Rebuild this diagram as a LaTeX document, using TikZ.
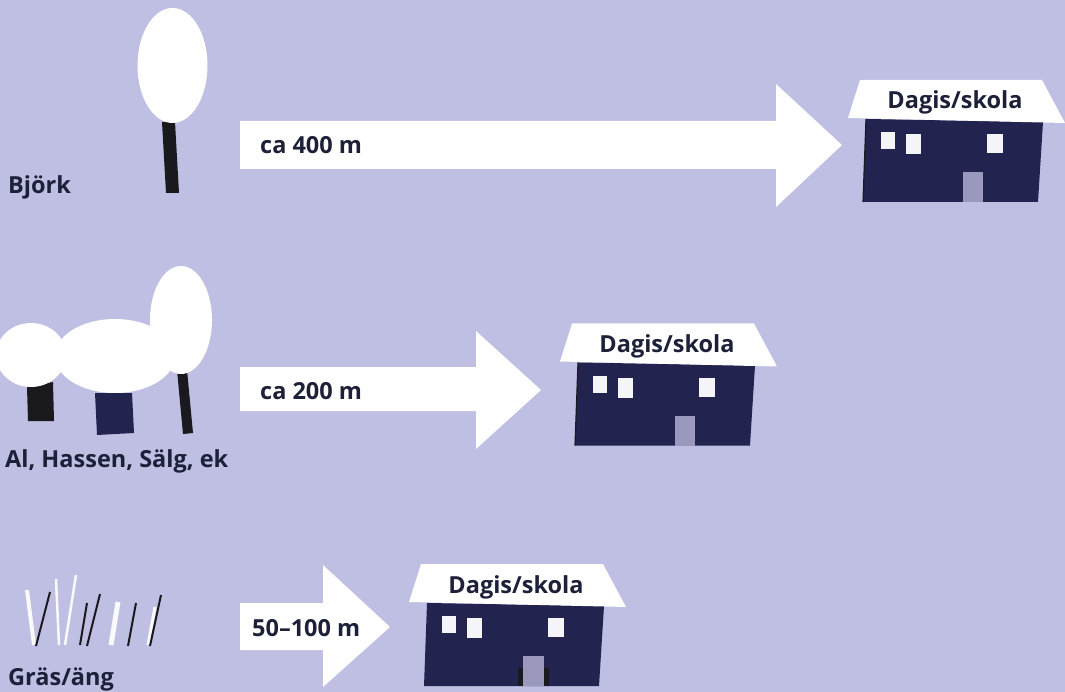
\documentclass[tikz,border=0pt]{standalone}
\usepackage{fontspec}
\setmainfont{Open Sans}
\definecolor{bakgrund}{HTML}{BFBEE3}
\definecolor{natt}{HTML}{22234F}
\definecolor{stam}{HTML}{1A1A1E}
\definecolor{port}{HTML}{9A98BC}
\definecolor{skrift}{HTML}{1C2038}
\definecolor{ruta}{HTML}{F4F4F9}
\tikzset{
    etikett/.style={anchor=base west, inner sep=0pt, text=skrift, font=\fontsize{23.5}{26}\selectfont\bfseries},
    skylt/.style={anchor=base, inner sep=0pt, text=skrift, font=\fontsize{23.5}{26}\selectfont\bfseries},
    krona/.style={fill=white},
    pil/.style={fill=white},
    ljusstra/.style={draw=white!92!bakgrund, line width=3pt},
    morkstra/.style={draw=stam, line width=2pt}
}
\begin{document}
\begin{tikzpicture}[x=1pt,y=-1pt]
    \fill[bakgrund] (0,0) rectangle (1065,692);
    \useasboundingbox (0,0) rectangle (1065,692);
    % rad 1
    \fill[stam] (162,122) -- (175,122) -- (179,193) -- (166,193) -- cycle;
    \fill[krona] (172.5,65.5) ellipse (35 and 57.5);
    \node[etikett] (bjork) at (8,194) {Björk};
    \fill[pil] (240,121) -- (776,121) -- (776,84) -- (842,145) -- (776,207) -- (776,169) -- (240,169) -- cycle;
    \node[etikett] (avstand1) at (260,154) {ca 400 m};
    \begin{scope}[shift={(0,0)}]
        \fill[natt] (866,119) -- (1043,122) -- (1038,202) -- (863,202) -- cycle;
        \draw[stam, line width=1.2pt] (866,119) -- (863,202);
        \fill[white] (860,80) -- (1042,80) -- (1065,123) -- (848,118) -- cycle;
        \fill[ruta] (881,132) rectangle (895,149);
        \fill[ruta] (906,134) rectangle (921,154);
        \fill[ruta] (987,134) rectangle (1003,153);
        \fill[port] (963,172) rectangle (983,202);
        \node[skylt] (skola1) at (955,109) {Dagis/skola};
    \end{scope}
    % rad 2
    \fill[stam] (27,387) -- (53,382) -- (54,421) -- (28,421) -- cycle;
    \fill[natt] (95,393) -- (132,393) -- (134,433) -- (97,435) -- cycle;
    \fill[stam] (177,370) -- (187,370) -- (193,433) -- (183,434) -- cycle;
    \fill[krona] (31,355) ellipse (35 and 32);
    \fill[krona] (115,356) ellipse (60 and 37);
    \fill[krona] (181,320) ellipse (31 and 54);
    \node[etikett] (lovtrad) at (5,467) {Al, Hassen, Sälg, ek};
    \fill[pil] (240,367) -- (476,367) -- (476,331) -- (541,390) -- (476,449) -- (476,411) -- (240,411) -- cycle;
    \node[etikett] (avstand2) at (260,399) {ca 200 m};
    \begin{scope}[shift={(-288,243.5)}]
        \fill[natt] (866,119) -- (1043,122) -- (1038,202) -- (863,202) -- cycle;
        \draw[stam, line width=1.2pt] (866,119) -- (863,202);
        \fill[white] (860,80) -- (1042,80) -- (1065,123) -- (848,118) -- cycle;
        \fill[ruta] (881,132) rectangle (895,149);
        \fill[ruta] (906,134) rectangle (921,154);
        \fill[ruta] (987,134) rectangle (1003,153);
        \fill[port] (963,172) rectangle (983,202);
        \node[skylt] (skola2) at (955,109) {Dagis/skola};
    \end{scope}
    % rad 3
    \draw[ljusstra, line width=4pt] (27,590) -- (34,645);
    \draw[ljusstra, line width=2.5pt] (56,579) -- (59,645);
    \draw[ljusstra, line width=2.5pt] (76,575) -- (65,645);
    \draw[ljusstra, line width=5pt] (118,602) -- (111,645);
    \draw[ljusstra, line width=3pt] (155,607) -- (148,645);
    \draw[morkstra] (50,592) -- (36,646);
    \draw[morkstra] (87,603) -- (80,645);
    \draw[morkstra] (100,594) -- (87,646);
    \draw[morkstra] (136,603) -- (128,646);
    \draw[morkstra] (161,595) -- (150,646);
    \node[etikett] (gras) at (8,685) {Gräs/äng};
    \fill[pil] (240,603) -- (323,603) -- (323,565) -- (390,627) -- (323,687) -- (323,650) -- (240,650) -- cycle;
    \node[etikett] (avstand3) at (252,636) {50--100 m};
    \begin{scope}[shift={(-439,484)}]
        \fill[natt] (866,119) -- (1043,122) -- (1038,202) -- (863,202) -- cycle;
        \fill[white] (860,80) -- (1042,80) -- (1065,123) -- (848,118) -- cycle;
        \fill[ruta] (881,132) rectangle (895,149);
        \fill[ruta] (906,134) rectangle (921,154);
        \fill[ruta] (987,134) rectangle (1003,153);
        \fill[stam] (957,184) rectangle (988,202);
        \fill[port] (962,172) rectangle (983,202);
        \node[skylt] (skola3) at (955,109) {Dagis/skola};
    \end{scope}
\end{tikzpicture}
\end{document}
